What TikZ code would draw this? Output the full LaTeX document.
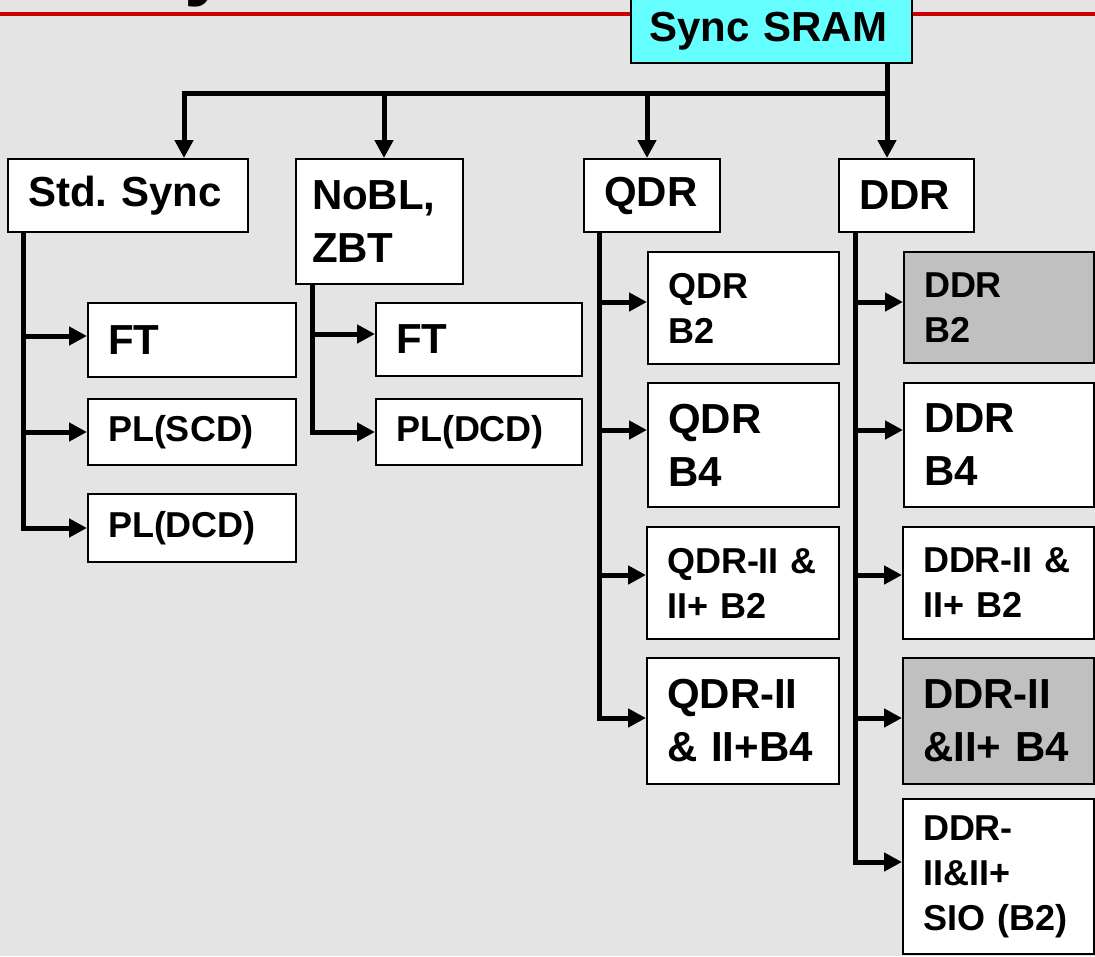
\documentclass[tikz,border=0pt]{standalone}
\usepackage{fontspec}
\setmainfont{Liberation Sans}
\usetikzlibrary{arrows.meta}
\definecolor{bg}{HTML}{E4E4E4}
\definecolor{cyanbox}{HTML}{66FFFF}
\definecolor{greybox}{HTML}{C0C0C0}
\definecolor{redline}{HTML}{CC0000}
\begin{document}
\frenchspacing
\begin{tikzpicture}[x=1pt,y=-1pt,
  box/.style={draw=black, line width=2pt, fill=white, anchor=north west, inner xsep=20pt, inner ysep=0pt, align=left},
  big/.style={font=\fontsize{42}{53}\selectfont\bfseries},
  small/.style={font=\fontsize{36}{45}\selectfont\bfseries},
  arr/.style={line width=5pt, -{Triangle[length=18pt,width=18pt]}},
]
\clip (0,0) rectangle (1095,956);
\useasboundingbox (0,0) rectangle (1095,956);
\fill[bg] (0,0) rectangle (1095,956);
% title remnant and rule
\node[font=\fontsize{80}{80}\selectfont\bfseries, anchor=base west, inner sep=0pt] (ttl) at (184,-10) {y};
\draw[redline, line width=4pt] (0,14) -- (1095,14);
% root
\node[draw=black, line width=2pt, fill=cyanbox, anchor=north west, minimum width=281pt, minimum height=74pt,
      inner xsep=18pt, inner ysep=0pt, text width=245pt, align=left, text height=30pt, text depth=0pt,
      font=\fontsize{42}{53}\selectfont\bfseries] (sync) at (630,-12) {Sync SRAM};
% level 1
\node[box,big,minimum width=240pt,minimum height=73pt,text width=200pt] (std) at (7,158) {\mbox{Std.\ Sync}};
\node[box,big,minimum width=167pt,minimum height=125pt,text width=127pt,inner xsep=16pt,text width=135pt] (nobl) at (295,158) {NoBL,\\ZBT};
\node[box,big,minimum width=136pt,minimum height=73pt,text width=96pt] (qdr) at (583,158) {QDR};
\node[box,big,minimum width=135pt,minimum height=73pt,text width=95pt] (ddr) at (838,158) {DDR};
% Std. Sync children
\node[box,big,minimum width=208pt,minimum height=74pt,text width=168pt] (sft) at (87,302) {FT};
\node[box,small,minimum width=208pt,minimum height=66pt,text width=168pt] (sscd) at (87,398) {PL(SCD)};
\node[box,small,minimum width=208pt,minimum height=68pt,text width=168pt] (sdcd) at (87,493) {PL(DCD)};
% NoBL children
\node[box,big,minimum width=206pt,minimum height=73pt,text width=166pt] (nft) at (375,302) {FT};
\node[box,small,minimum width=206pt,minimum height=66pt,text width=166pt] (ndcd) at (375,398) {PL(DCD)};
% QDR children
\node[box,small,minimum width=191pt,minimum height=112pt,text width=151pt] (qb2) at (647,251) {QDR\\B2};
\node[box,big,minimum width=191pt,minimum height=124pt,text width=151pt] (qb4) at (647,382) {QDR\\B4};
\node[box,small,minimum width=192pt,minimum height=112pt,text width=152pt] (q2b2) at (646,526) {\mbox{QDR-II \&}\\II+ B2};
\node[box,big,minimum width=192pt,minimum height=126pt,text width=152pt] (q2b4) at (646,657) {QDR-II\\\mbox{\& II+B4}};
% DDR children
\node[box,small,fill=greybox,minimum width=190pt,minimum height=111pt,text width=150pt] (db2) at (903,251) {DDR\\B2};
\node[box,big,minimum width=190pt,minimum height=124pt,text width=150pt] (db4) at (903,382) {DDR\\B4};
\node[box,small,minimum width=191pt,minimum height=112pt,text width=151pt] (d2b2) at (902,526) {\mbox{DDR-II \&}\\II+ B2};
\node[box,big,fill=greybox,minimum width=191pt,minimum height=126pt,text width=151pt] (d2b4) at (902,657) {DDR-II\\\mbox{\&II+ B4}};
\node[box,small,minimum width=191pt,minimum height=155pt,text width=151pt] (dsio) at (902,798) {DDR-\\II\&II+\\\mbox{SIO (B2)}};
% top connectors
\coordinate (top) at (887,62);
\coordinate (barR) at (887,93);
\coordinate (bS) at (184,93);
\coordinate (bN) at (384,93);
\coordinate (bQ) at (647,93);
\draw[arr] (top) -- (top |- ddr.north);
\draw[arr] (barR) -- (bS) -- (bS |- std.north);
\draw[arr] (bN) -- (bN |- nobl.north);
\draw[arr] (bQ) -- (bQ |- qdr.north);
% Std. Sync branch
\coordinate (s0) at (23,231);
\coordinate (s1) at (23,336);
\coordinate (s2) at (23,432);
\draw[arr] (s0) |- (sdcd.west);
\draw[arr] (s1) -- (s1 -| sft.west);
\draw[arr] (s2) -- (s2 -| sscd.west);
% NoBL branch
\coordinate (n0) at (312,283);
\coordinate (n1) at (312,334);
\draw[arr] (n0) |- (ndcd.west);
\draw[arr] (n1) -- (n1 -| nft.west);
% QDR branch
\coordinate (q0) at (599,231);
\coordinate (q1) at (599,302);
\coordinate (q2) at (599,430);
\coordinate (q3) at (599,575);
\coordinate (q4) at (599,718);
\draw[arr] (q0) -- (q4) -- (q4 -| q2b4.west);
\draw[arr] (q1) -- (q1 -| qb2.west);
\draw[arr] (q2) -- (q2 -| qb4.west);
\draw[arr] (q3) -- (q3 -| q2b2.west);
% DDR branch
\coordinate (d0) at (855,231);
\coordinate (d1) at (855,302);
\coordinate (d2) at (855,430);
\coordinate (d3) at (855,575);
\coordinate (d4) at (855,718);
\coordinate (d5) at (855,862);
\draw[arr] (d0) -- (d5) -- (d5 -| dsio.west);
\draw[arr] (d1) -- (d1 -| db2.west);
\draw[arr] (d2) -- (d2 -| db4.west);
\draw[arr] (d3) -- (d3 -| d2b2.west);
\draw[arr] (d4) -- (d4 -| d2b4.west);
\end{tikzpicture}
\end{document}
